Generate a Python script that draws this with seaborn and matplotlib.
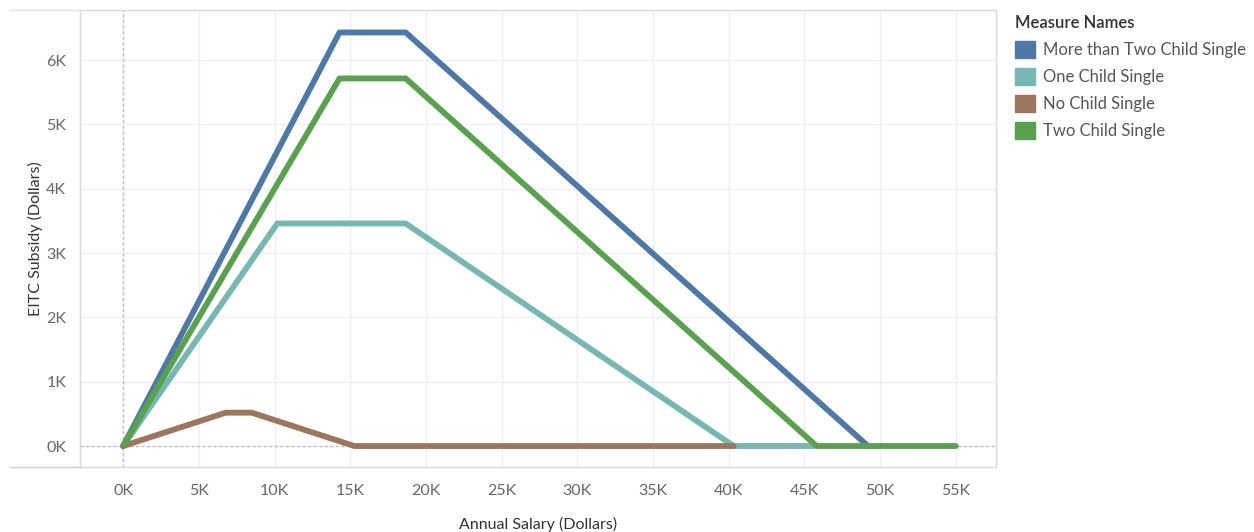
import numpy as np
import pandas as pd
import seaborn as sns
import matplotlib.pyplot as plt
from matplotlib.patches import Patch
from matplotlib.lines import Line2D

# EITC schedule, single filer (salary in dollars, subsidy in dollars)
more_x = [0, 14290, 18660, 49194]
more_y = [0, 6431, 6431, 0]
one_x = [0, 10180, 18660, 40320, 45802]
one_y = [0, 3461, 3461, 0, 0]
none_x = [0, 6780, 8490, 15270, 40320]
none_y = [0, 519, 519, 0, 0]
two_x = [0, 14290, 18660, 45802, 55000]
two_y = [0, 5716, 5716, 0, 0]

names = ["More than Two Child Single", "One Child Single", "No Child Single", "Two Child Single"]
colors = ["#4e79a7", "#76b7b2", "#9c755f", "#59a14f"]
xticks = np.arange(0, 55001, 5000)
yticks = np.arange(0, 6001, 1000)

frames = []
for name, xs, ys in zip(names, [more_x, one_x, none_x, two_x], [more_y, one_y, none_y, two_y]):
    frames.append(pd.DataFrame({"salary": xs, "subsidy": ys, "measure": name}))
df = pd.concat(frames, ignore_index=True)

sns.set_style("white")
plt.rcParams['font.family'] = ['Lato', 'DejaVu Sans']

fig = plt.figure(figsize=(12.54, 5.32), dpi=100)
ax = fig.add_axes([80/1254, 1-467/532, (996-80)/1254, (467-10)/532])

# grid + zero lines
for xv in xticks:
    ax.axvline(xv, color="#efefef", lw=1, zorder=0)
for yv in yticks:
    ax.axhline(yv, color="#efefef", lw=1, zorder=0)
ax.axvline(0, color="#bdbdbd", lw=1, ls=(0, (2, 2)), zorder=1)
ax.axhline(0, color="#bdbdbd", lw=1, ls=(0, (2, 2)), zorder=1)

sns.lineplot(data=df, x="salary", y="subsidy", hue="measure", hue_order=names,
             palette=colors, sort=False, estimator=None, lw=4.2, legend=False, ax=ax,
             solid_joinstyle="round", solid_capstyle="round")

ax.set_xlim(-2850, 57650)
ax.set_ylim(-326, 6780)
ax.set_xticks(xticks)
ax.set_xticklabels([f"{int(v/1000)}K" for v in xticks])
ax.set_yticks(yticks)
ax.set_yticklabels([f"{int(v/1000)}K" for v in yticks])
ax.tick_params(axis="both", length=0, labelsize=11.5, colors="#666666", pad=12)
ax.tick_params(axis="y", pad=10)
ax.set_xlabel("Annual Salary (Dollars)", fontsize=11.5, color="#333333", labelpad=14)
ax.set_ylabel("EITC Subsidy (Dollars)", fontsize=11.5, color="#333333", labelpad=2)

for side in ["top", "right", "bottom", "left"]:
    ax.spines[side].set_color("#d9d9d9")
    ax.spines[side].set_linewidth(1)

# outer lines extending into axis area
fig.add_artist(Line2D([10/1254, 80/1254], [1-467/532, 1-467/532], color="#d0d0d0", lw=1))
fig.add_artist(Line2D([10/1254, 80/1254], [1-10/532, 1-10/532], color="#e3e3e3", lw=1))

handles = [Patch(facecolor=c, edgecolor=c) for c in colors]
leg = fig.legend(handles, names, loc="upper left", bbox_to_anchor=(1008/1254, 1-8/532),
                 frameon=False, title="Measure Names", fontsize=12, title_fontsize=12,
                 handlelength=1.2, handleheight=1.2, handletextpad=0.5, labelspacing=0.6,
                 alignment="left", borderaxespad=0)
leg.get_title().set_color("#333333")
leg.get_title().set_fontweight("semibold")
for t in leg.get_texts():
    t.set_color("#555555")

fig.savefig("out.png", dpi=100)
